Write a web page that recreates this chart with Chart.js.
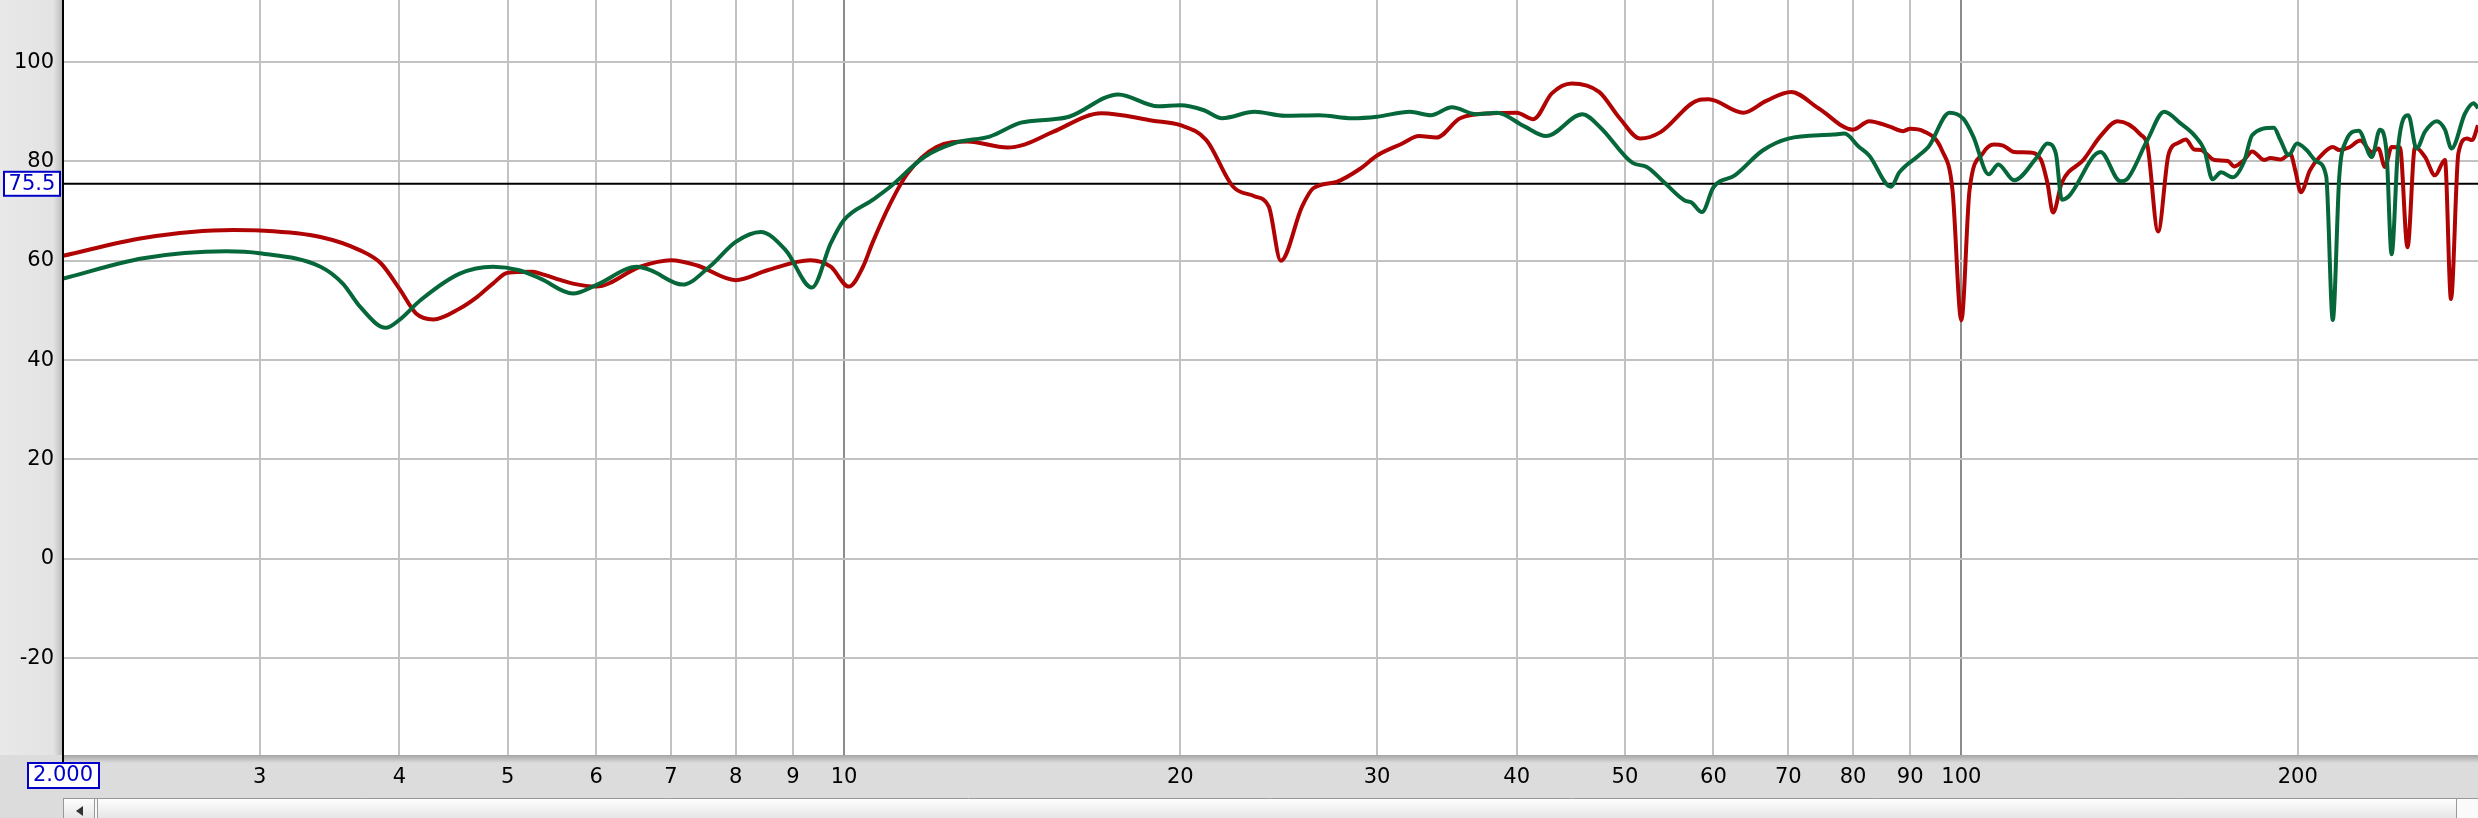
<!DOCTYPE html>
<html>
<head>
<meta charset="utf-8">
<script src="https://cdn.jsdelivr.net/npm/chart.js@4.4.0/dist/chart.umd.min.js"></script>
<style>
  html, body { margin: 0; padding: 0; background: #fff; overflow: hidden; }
  #wrap { width: 2478px; height: 818px; }
</style>
</head>
<body>
<div id="wrap"><canvas id="myChart" width="2478" height="818"></canvas></div>
<script>
// axis setup
const xMin = 2;
const xMax = 290;
const yMin = -39.5;
const yMax = 112.5;
const xTicks = [3, 4, 5, 6, 7, 8, 9, 10, 20, 30, 40, 50, 60, 70, 80, 90, 100, 200];
const yTicks = [-20, 0, 20, 40, 60, 80, 100];
const refLevel = 75.5;

// red trace (Hz, dB)
const redFreq = [2.0, 2.36, 2.84, 3.0, 3.4, 3.69, 3.85, 4.0, 4.14, 4.29, 4.53, 4.7, 4.85, 5.0, 5.26, 5.35, 5.58, 5.72, 6.0,
  6.57, 7.0, 7.38, 8.0, 8.54, 9.33, 9.73, 10.1, 10.4, 10.6, 11.0, 11.4, 12.1, 12.9, 14.0, 14.5, 15.4, 17.0, 18.9, 20,
  21.1, 22.3, 23.3, 24.0, 24.6, 25.7, 26.3, 27.6, 29.0, 30, 31.6, 32.7, 33.9, 35.6, 38.1, 40, 41.4, 43.0, 44.8, 47.4,
  49.5, 51.6, 53.8, 58.1, 59.4, 63.8, 66.9, 70.4, 74.6, 80, 82.7, 86.3, 88.7, 90, 92.5, 96.1, 98.2, 100, 101.7, 104.5,
  106.9, 109, 111.5, 115, 117.8, 119.4, 120.8, 123, 128.7, 133.2, 138.0, 144.7, 146.8, 150, 153.3, 156.6, 158.8, 161.6,
  163.8, 168.4, 173.2, 175.5, 179.1, 182.1, 186.6, 189.1, 193.0, 197.0, 199.0, 201.3, 205.1, 209.3, 215.0, 217.9, 222.3,
  227.6, 233.0, 236.2, 239.4, 242.7, 246.9, 250.8, 254.7, 260.0, 265.4, 270.9, 274.3, 278.5, 283.5, 286.5, 290];
const redLevel = [61.0, 64.6, 66.2, 66.1, 64.8, 62.1, 59.5, 54.4, 49.4, 48.2, 50.4, 52.8, 55.4, 57.6, 57.8, 57.4, 56.1, 55.4, 54.8,
  58.8, 60.1, 59.1, 56.1, 58.1, 60.1, 58.8, 54.8, 58.8, 63.5, 71.5, 77.6, 82.9, 84.0, 82.8, 83.4, 86.0, 89.7, 88.2, 87.3,
  84.3, 74.9, 73.0, 70.9, 60.0, 70.9, 74.6, 75.9, 78.6, 81.2, 83.6, 85.1, 84.8, 88.7, 89.7, 89.8, 88.5, 93.7, 95.7, 94.0,
  88.6, 84.6, 85.9, 92.3, 92.5, 89.8, 92.2, 94.0, 90.6, 86.4, 88.1, 87.0, 86.1, 86.6, 86.1, 82.2, 74.2, 48.0, 74.2, 81.6,
  83.4, 83.2, 81.9, 81.8, 80.4, 75.7, 69.7, 75.7, 80.4, 85.1, 88.1, 85.4, 83.0, 65.9, 81.5, 83.8, 84.4, 82.4,
  82.3, 80.3, 80.1, 79.0, 80.3, 82.0, 80.3, 80.7, 80.4, 81.5, 78.2, 73.8, 78.2, 80.9, 82.9, 82.3, 82.8,
  84.2, 81.9, 82.6, 78.9, 82.9, 82.8, 62.7, 82.9, 80.9, 77.2, 80.3, 52.3, 81.6, 84.6, 84.3, 87.3];

// green trace (Hz, dB)
const greenFreq = [2.0, 2.36, 2.8, 3.0, 3.4, 3.56, 3.69, 3.89, 4.0, 4.18, 4.53, 4.85, 5.12, 5.35, 5.72, 6.0, 6.53, 6.71, 7.17,
  7.58, 8.0, 8.42, 8.87, 9.36, 9.73, 10.0, 10.6, 11.0, 11.8, 12.6, 13.5, 14.4, 15.4, 15.9, 17.6, 19.1, 20, 21.0, 21.8,
  23.3, 24.8, 26.6, 28.5, 30, 32.1, 33.5, 35.0, 36.8, 38.4, 40.6, 42.5, 45.8, 47.5, 50.8, 52.3, 54.2, 56.6, 57.3, 58.6,
  60.0, 62.7, 66.4, 70, 76.8, 78.6, 81.0, 82.7, 86.5, 88.0, 91.5, 93.5, 97.6, 100.4, 102.5, 105.8, 107.9, 111.5, 116.8,
  119.4, 121.5, 123, 124.8, 133.2, 138.8, 140.8, 146.8, 151.9, 157.2, 161.6, 165.0, 167.8, 170.8, 174.9, 179.1, 182.1,
  190.4, 193.0, 196.3, 199.7, 203.7, 207.9, 212.1, 215.0, 217.9, 220.8, 226.8, 233.0, 236.9, 240.1, 242.7, 246.0, 251.2,
  255.5, 260.0, 266.3, 270.9, 274.6, 282.4, 287.4, 290];
const greenLevel = [56.4, 60.5, 61.9, 61.5, 58.8, 55.4, 50.7, 46.5, 48.1, 52.1, 57.4, 58.8, 58.1, 56.4, 53.4, 55.1, 58.8, 58.1, 55.2,
  58.8, 63.8, 65.8, 62.1, 54.6, 63.5, 68.2, 72.2, 74.9, 80.9, 83.8, 85.0, 87.8, 88.5, 89.0, 93.5, 91.1, 91.3, 90.3, 88.7,
  90.0, 89.2, 89.3, 88.7, 89.0, 90.0, 89.3, 90.9, 89.5, 89.8, 87.1, 85.1, 89.5, 86.9, 79.7, 78.9, 75.8, 72.1, 71.8, 69.8,
  74.8, 77.2, 82.2, 84.6, 85.4, 85.6, 82.9, 81.2, 74.9, 77.8, 81.1, 83.0, 89.8, 88.6, 85.0, 77.4, 79.4, 76.2, 80.8,
  83.6, 81.6, 72.3, 73.0, 81.9, 76.0, 76.5, 84.4, 90.0, 87.6, 85.3, 82.3, 76.4, 77.8, 76.8, 80.0, 85.3,
  86.8, 84.3, 81.3, 83.6, 82.3, 80.0, 77.0, 48.1, 77.0, 84.0, 86.2, 80.9, 86.4, 82.3, 61.3, 82.9, 89.3,
  82.6, 86.0, 88.1, 86.4, 82.6, 89.7, 91.7, 90.7];

function toPoints(freq, level) {
  let pts = [];
  for (let i = 0; i < freq.length; i++) {
    pts.push({ x: freq[i], y: level[i] });
  }
  return pts;
}

const FONT = "'DejaVu Sans', 'Liberation Sans', sans-serif";

// panels, scrollbar and value boxes like the REW window
const framePlugin = {
  id: "frame",
  beforeDraw(chart) {
    const c = chart.ctx;
    const a = chart.chartArea;
    const W = chart.width, H = chart.height;
    c.save();
    c.fillStyle = "#ffffff";
    c.fillRect(0, 0, W, H);
    // left panel
    let g = c.createLinearGradient(0, 0, a.left, 0);
    g.addColorStop(0, "#e9e9e9");
    g.addColorStop(0.85, "#e3e3e3");
    g.addColorStop(1, "#b8b8b8");
    c.fillStyle = g;
    c.fillRect(0, 0, a.left, a.bottom);
    // bottom band
    c.fillStyle = "#dcdcdc";
    c.fillRect(0, a.bottom, W, 798 - a.bottom);
    g = c.createLinearGradient(0, a.bottom, 0, a.bottom + 8);
    g.addColorStop(0, "#a4a4a4");
    g.addColorStop(1, "#dcdcdc");
    c.fillStyle = g;
    c.fillRect(a.left, a.bottom, W - a.left, 8);
    // scrollbar
    c.fillStyle = "#dcdcdc";
    c.fillRect(0, 798, a.left, H - 798);
    c.fillStyle = "#fafafa";
    c.fillRect(a.left, 798, W - a.left, H - 798);
    g = c.createLinearGradient(0, 798, 0, H);
    g.addColorStop(0, "#ffffff");
    g.addColorStop(1, "#e6e6e6");
    c.fillStyle = g;
    c.fillRect(97, 798, 2456 - 97, H - 798);
    c.fillRect(a.left, 798, 31, H - 798);
    c.strokeStyle = "#999999";
    c.lineWidth = 1;
    c.beginPath();
    c.moveTo(a.left, 798.5);
    c.lineTo(W, 798.5);
    c.moveTo(a.left + 0.5, 798);
    c.lineTo(a.left + 0.5, H);
    c.moveTo(94.5, 798);
    c.lineTo(94.5, H);
    c.moveTo(97.5, 798);
    c.lineTo(97.5, H);
    c.moveTo(2456.5, 798);
    c.lineTo(2456.5, H);
    c.stroke();
    c.fillStyle = "#333333";
    c.beginPath();
    c.moveTo(76, 811);
    c.lineTo(83, 806);
    c.lineTo(83, 816);
    c.closePath();
    c.fill();
    c.restore();
  },
  afterDraw(chart) {
    const c = chart.ctx;
    const a = chart.chartArea;
    const ys = chart.scales.y;
    const xs = chart.scales.x;
    c.save();
    // axis line goes down into the band
    c.fillStyle = "#000000";
    c.fillRect(a.left - 1, 0, 2, a.bottom + 8);
    c.font = "21px " + FONT;
    c.textAlign = "center";
    c.textBaseline = "middle";
    // reference level box
    const ry = ys.getPixelForValue(refLevel);
    c.fillStyle = "#ffffff";
    c.fillRect(4, ry - 12, 56, 24);
    c.strokeStyle = "#0000c8";
    c.lineWidth = 2;
    c.strokeRect(4, ry - 12, 56, 24);
    c.fillStyle = "#0000c8";
    c.fillText(refLevel.toFixed(1), 32, ry + 1);
    // start frequency box
    const sx = xs.getPixelForValue(xMin);
    c.fillStyle = "#ffffff";
    c.fillRect(sx - 35, 763, 71, 25);
    c.strokeRect(sx - 35, 763, 71, 25);
    c.fillStyle = "#0000c8";
    c.fillText(xMin.toFixed(3), sx, 776);
    c.restore();
  },
};

const ctx = document.getElementById("myChart");

new Chart(ctx, {
  type: "line",
  data: {
    datasets: [
      {
        data: toPoints(greenFreq, greenLevel),
        borderColor: "#06683a",
        borderWidth: 4,
        pointRadius: 0,
        cubicInterpolationMode: "monotone",
        order: 1,
      },
      {
        data: toPoints(redFreq, redLevel),
        borderColor: "#b00404",
        borderWidth: 4,
        pointRadius: 0,
        cubicInterpolationMode: "monotone",
        order: 2,
      },
      {
        data: [{ x: xMin, y: refLevel }, { x: xMax, y: refLevel }],
        borderColor: "#000000",
        borderWidth: 2,
        pointRadius: 0,
        order: 3,
      },
    ],
  },
  options: {
    responsive: false,
    animation: false,
    devicePixelRatio: 1,
    layout: { padding: 0 },
    plugins: {
      legend: { display: false },
      tooltip: { enabled: false },
    },
    scales: {
      x: {
        type: "logarithmic",
        min: xMin,
        max: xMax,
        afterBuildTicks: (scale) => {
          scale.ticks = xTicks.map((v) => ({ value: v }));
        },
        afterFit: (scale) => {
          scale.height = 63;
          scale.paddingLeft = 0;
          scale.paddingRight = 0;
        },
        border: { display: false },
        grid: {
          drawTicks: false,
          lineWidth: 2,
          color: (c) => (c.tick && (c.tick.value === 10 || c.tick.value === 100) ? "#8c8c8c" : "#c2c2c2"),
        },
        ticks: {
          autoSkip: false,
          maxRotation: 0,
          padding: 10,
          color: "#000000",
          font: { family: FONT, size: 21 },
          callback: (v) => String(v),
        },
      },
      y: {
        min: yMin,
        max: yMax,
        afterBuildTicks: (scale) => {
          scale.ticks = yTicks.map((v) => ({ value: v }));
        },
        afterFit: (scale) => {
          scale.width = 63;
          scale.paddingTop = 0;
          scale.paddingBottom = 0;
        },
        border: { display: false },
        grid: {
          drawTicks: false,
          lineWidth: 2,
          color: "#c2c2c2",
        },
        ticks: {
          padding: 9,
          color: "#000000",
          font: { family: FONT, size: 21 },
          callback: (v) => String(v),
        },
      },
    },
  },
  plugins: [framePlugin],
});
</script>
</body>
</html>
